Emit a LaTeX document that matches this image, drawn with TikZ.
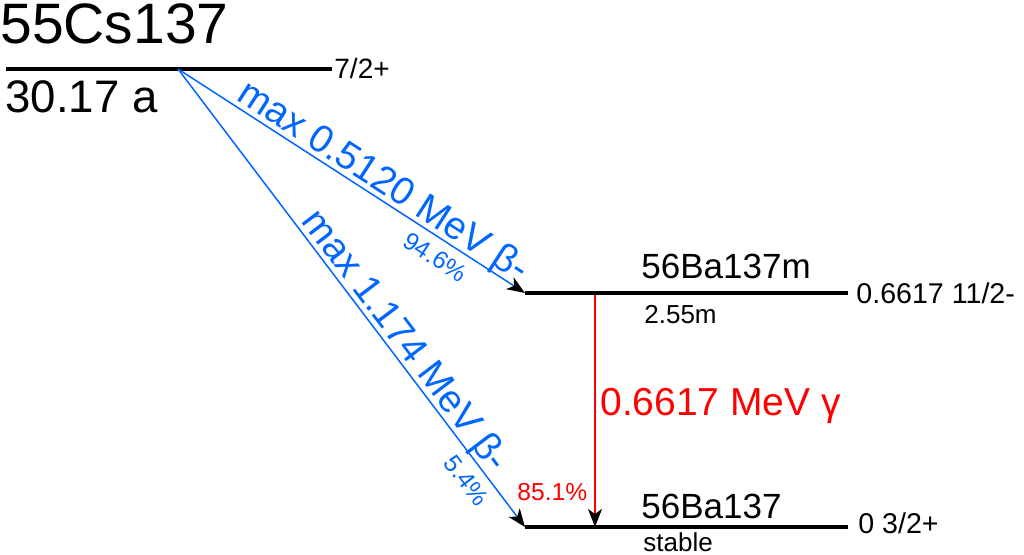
\documentclass[tikz,border=0pt]{standalone}
\usepackage{fontspec}
\setmainfont{Liberation Sans}
\usetikzlibrary{arrows.meta}
\definecolor{betablue}{RGB}{0,102,255}
\definecolor{gammared}{RGB}{255,0,0}
\newcommand{\sz}[1]{\fontsize{#1}{#1}\selectfont}
\begin{document}
\begin{tikzpicture}[x=0.5pt,y=-0.5pt,inner sep=0pt,
        level/.style={draw=black, line width=2.2pt},
        decay/.style={line width=0.75pt, -{Stealth[length=9pt,width=7pt,inset=2.5pt,color=black]}},
        beta/.style={decay, draw=betablue},
        gamma/.style={decay, draw=gammared}]
        \useasboundingbox (0,0) rectangle (1024,554);

        \coordinate (csL) at (6,69);
        \coordinate (csR) at (332,69);
        \coordinate (cs) at (178,69);
        \coordinate (bamL) at (525,293);
        \coordinate (bamR) at (848,293);
        \coordinate (bamG) at (595,295);
        \coordinate (baL) at (525,527);
        \coordinate (baR) at (848,527);
        \coordinate (baG) at (595,527);

        \draw [level] (csL) -- (csR);
        \draw [level] (bamL) -- (bamR);
        \draw [level] (baL) -- (baR);

        \node [anchor=base west] (csname) at (0,43) {\sz{28.5}55Cs137};
        \node [anchor=base west] (cshalf) at (5,112) {\sz{22.8}30.17 a};
        \node [anchor=base west] (csspin) at (334,78) {\sz{14}7/2+};

        \node [anchor=base west] (bamname) at (641,278) {\sz{17.5}56Ba137m};
        \node [anchor=base west] (bamhalf) at (644,323) {\sz{13}2.55m};
        \node [anchor=base west] (bamspin) at (856,303) {\sz{14.3}0.6617 11/2-};

        \node [anchor=base west] (baname) at (641,518) {\sz{17.5}56Ba137};
        \node [anchor=base west] (bahalf) at (643,551) {\sz{13}stable};
        \node [anchor=base west] (baspin) at (858,533) {\sz{14.3}0 3/2+};

        \draw [beta] (cs) -- node[pos=0.565, sloped, above=-1.5pt, text=betablue] (beta1) {\sz{19.3}max 0.5120 MeV β-}
                node[pos=0.77, sloped, below=4.5pt, text=betablue] (beta1p) {\sz{12.3}94.6\%} (bamL);
        \draw [beta] (cs) -- node[pos=0.616, sloped, above=-1.5pt, text=betablue] (beta2) {\sz{19.3}max 1.174 MeV β-}
                node[pos=0.874, sloped, below=4.5pt, text=betablue] (beta2p) {\sz{12.3}5.4\%} (baL);
        \draw [gamma] (bamG) -- (baG);

        \node [anchor=base west, text=gammared] (gammaE) at (600,415) {\sz{19.5}0.6617 MeV γ};
        \node [anchor=base west, text=gammared] (gammap) at (517,500) {\sz{12.3}85.1\%};

\end{tikzpicture}
\end{document}
